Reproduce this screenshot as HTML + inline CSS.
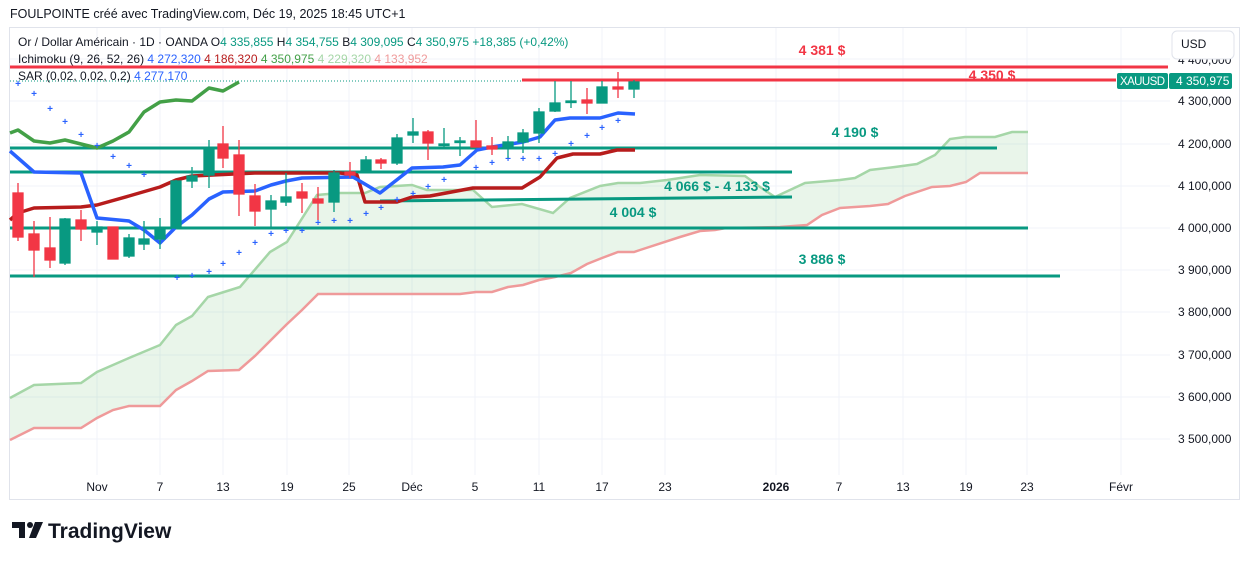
<!DOCTYPE html>
<html><head><meta charset="utf-8"><style>
html,body{margin:0;padding:0;background:#fff;width:1248px;height:561px;overflow:hidden}
svg{display:block;font-family:"Liberation Sans",sans-serif}
</style></head><body>
<svg width="1248" height="561" viewBox="0 0 1248 561">
<text x="10" y="18" font-size="12.5" fill="#131722">FOULPOINTE créé avec TradingView.com, Déc 19, 2025 18:45 UTC+1</text>
<rect x="9.5" y="27.5" width="1230" height="472" fill="#fff" stroke="#e0e3eb"/>
<g stroke="#f0f3fa" stroke-width="1">
<line x1="97" y1="28" x2="97" y2="475"/><line x1="160" y1="28" x2="160" y2="475"/><line x1="223" y1="28" x2="223" y2="475"/><line x1="287" y1="28" x2="287" y2="475"/><line x1="349" y1="28" x2="349" y2="475"/><line x1="412" y1="28" x2="412" y2="475"/><line x1="475" y1="28" x2="475" y2="475"/><line x1="539" y1="28" x2="539" y2="475"/><line x1="602" y1="28" x2="602" y2="475"/><line x1="665" y1="28" x2="665" y2="475"/><line x1="776" y1="28" x2="776" y2="475"/><line x1="839" y1="28" x2="839" y2="475"/><line x1="903" y1="28" x2="903" y2="475"/><line x1="966" y1="28" x2="966" y2="475"/><line x1="1027" y1="28" x2="1027" y2="475"/><line x1="1121" y1="28" x2="1121" y2="475"/>
<line x1="10" y1="59" x2="1170" y2="59"/><line x1="10" y1="101" x2="1170" y2="101"/><line x1="10" y1="144" x2="1170" y2="144"/><line x1="10" y1="186" x2="1170" y2="186"/><line x1="10" y1="228" x2="1170" y2="228"/><line x1="10" y1="270" x2="1170" y2="270"/><line x1="10" y1="312" x2="1170" y2="312"/><line x1="10" y1="355" x2="1170" y2="355"/><line x1="10" y1="397" x2="1170" y2="397"/><line x1="10" y1="439" x2="1170" y2="439"/>
</g>
<polygon fill="rgba(76,175,80,0.12)" points="10,398 34,385 81,383 97,372 129,358 160,345 176,325 192,316 208,297 240,287 270,252 287,242 317,195 340,193 365,193 380,187 412,185 427,190 473,190 492,207 522,204 553,213 570,198 600,186 618,183 640,183 667,180 700,175 745,176 760,187 775,197 805,183 840,180 855,178 870,170 895,167 917,164 935,155 950,139 965,137 995,137 1012,132 1028,132 1028,173 980,173 966,182 950,186 932,187 905,196 888,204 870,206 840,208 822,215 807,225 780,227 726,228 715,230 700,231 680,237 640,250 634,252 618,252 602,258 587,264 571,273 555,277 539,280 523,285 508,287 492,292 476,292 460,294 350,294 318,294 302,310 286,325 271,340 255,356 239,370 208,371 192,381 176,390 160,406 129,406 113,410 97,418 81,428 34,428 10,440"/>
<polyline fill="none" stroke="#a5d6a7" stroke-width="2.5" points="10,398 34,385 81,383 97,372 129,358 160,345 176,325 192,316 208,297 240,287 270,252 287,242 317,195 340,193 365,193 380,187 412,185 427,190 473,190 492,207 522,204 553,213 570,198 600,186 618,183 640,183 667,180 700,175 745,176 760,187 775,197 805,183 840,180 855,178 870,170 895,167 917,164 935,155 950,139 965,137 995,137 1012,132 1028,132"/>
<polyline fill="none" stroke="#ef9a9a" stroke-width="2.5" points="10,440 34,428 81,428 97,418 113,410 129,406 160,406 176,390 192,381 208,371 239,370 255,356 271,340 286,325 302,310 318,294 350,294 460,294 476,292 492,292 508,287 523,285 539,280 555,277 571,273 587,264 602,258 618,252 634,252 640,250 680,237 700,231 715,230 726,228 780,227 807,225 822,215 840,208 870,206 888,204 905,196 932,187 950,186 966,182 980,173 1028,173"/>
<g stroke="#089981" stroke-width="3">
<line x1="10" y1="148" x2="997" y2="148"/><line x1="10" y1="172" x2="792" y2="172"/><line x1="380" y1="201" x2="792" y2="197"/><line x1="10" y1="228" x2="1028" y2="228"/><line x1="10" y1="276" x2="1060" y2="276"/>
</g>
<line x1="10" y1="81" x2="1116" y2="81" stroke="#089981" stroke-width="1" stroke-dasharray="1,2"/>
<line x1="10" y1="67" x2="1168" y2="67" stroke="#f23645" stroke-width="3"/>
<line x1="522" y1="80" x2="1116" y2="80" stroke="#f23645" stroke-width="3"/>
<g font-size="14" font-weight="bold" text-anchor="middle">
<text x="822" y="55" fill="#f23645">4 381 $</text>
<text x="992" y="80" fill="#f23645">4 350 $</text>
<text x="855" y="137" fill="#089981">4 190 $</text>
<text x="717" y="191" fill="#089981">4 066 $ - 4 133 $</text>
<text x="633" y="217" fill="#089981">4 004 $</text>
<text x="822" y="264" fill="#089981">3 886 $</text>
</g>
<polyline fill="none" stroke="#43a047" stroke-width="3.5" stroke-linejoin="round" points="10,133 18,130 34,141 50,143 65,140 81,144 97,148 113,141 129,132 144,112 160,102 176,100 192,101 209,88 223,91 239,82"/>
<polyline fill="none" stroke="#b71c1c" stroke-width="3.5" stroke-linejoin="round" points="10,220 18,213 34,208 81,207 97,205 129,196 160,187 176,180 192,176 255,173 340,173 357,175 365,202 397,202 412,197 430,196 473,188 522,188 540,177 557,158 573,154 600,154 617,150 635,150"/>
<polyline fill="none" stroke="#2962ff" stroke-width="3.5" stroke-linejoin="round" points="10,151 34,172 81,173 97,218 129,221 144,230 160,243 176,227 192,215 209,199 223,192 255,191 271,185 286,181 302,178 353,177 380,193 412,168 443,167 460,165 477,150 492,147 523,142 540,137 555,120 570,118 600,118 618,113 635,114"/>
<g fill="#2962ff" font-size="10" text-anchor="middle" font-weight="bold">
<text x="18" y="87">+</text><text x="34" y="97">+</text><text x="50" y="112">+</text><text x="65" y="125">+</text><text x="81" y="138">+</text><text x="97" y="149">+</text><text x="113" y="160">+</text><text x="129" y="169">+</text><text x="144" y="178">+</text><text x="177" y="281">+</text><text x="192" y="279">+</text><text x="209" y="275">+</text><text x="223" y="267">+</text><text x="239" y="256">+</text><text x="255" y="246">+</text><text x="271" y="237">+</text><text x="286" y="234">+</text><text x="302" y="234">+</text><text x="318" y="226">+</text><text x="334" y="224">+</text><text x="350" y="224">+</text><text x="366" y="217">+</text><text x="381" y="211">+</text><text x="397" y="203">+</text><text x="413" y="197">+</text><text x="428" y="190">+</text><text x="444" y="183">+</text><text x="476" y="171">+</text><text x="492" y="166">+</text><text x="508" y="162">+</text><text x="523" y="162">+</text><text x="539" y="162">+</text><text x="555" y="157">+</text><text x="571" y="147">+</text><text x="587" y="139">+</text><text x="602" y="131">+</text><text x="618" y="124">+</text>
</g>
<g stroke-width="1.3">
<g stroke="#f23645" fill="#f23645">
<line x1="18" y1="183" x2="18" y2="241"/><rect x="13" y="193" width="10" height="44"/>
<line x1="34" y1="221" x2="34" y2="277"/><rect x="29" y="234" width="10" height="16"/>
<line x1="50" y1="217" x2="50" y2="268"/><rect x="45" y="248" width="10" height="12"/>
<line x1="81" y1="210" x2="81" y2="241"/><rect x="76" y="220" width="10" height="9"/>
<line x1="113" y1="227" x2="113" y2="259"/><rect x="108" y="227" width="10" height="32"/>
<line x1="223" y1="126" x2="223" y2="168"/><rect x="218" y="144" width="10" height="14"/>
<line x1="239" y1="140" x2="239" y2="216"/><rect x="234" y="155" width="10" height="39"/>
<line x1="255" y1="184" x2="255" y2="226"/><rect x="250" y="196" width="10" height="15"/>
<line x1="302" y1="183" x2="302" y2="213"/><rect x="297" y="192" width="10" height="6"/>
<line x1="318" y1="187" x2="318" y2="220"/><rect x="313" y="199" width="10" height="4"/>
<line x1="350" y1="162" x2="350" y2="178"/><rect x="345" y="172" width="10" height="3"/>
<line x1="381" y1="158" x2="381" y2="169"/><rect x="376" y="160" width="10" height="3"/>
<line x1="428" y1="130" x2="428" y2="160"/><rect x="423" y="132" width="10" height="11"/>
<line x1="476" y1="120" x2="476" y2="147"/><rect x="471" y="141" width="10" height="6"/>
<line x1="492" y1="137" x2="492" y2="155"/><rect x="487" y="146" width="10" height="3"/>
<line x1="587" y1="88" x2="587" y2="114"/><rect x="582" y="100" width="10" height="3"/>
<line x1="618" y1="72" x2="618" y2="98"/><rect x="613" y="87" width="10" height="2"/>
</g>
<g stroke="#089981" fill="#089981">
<line x1="65" y1="218" x2="65" y2="265"/><rect x="60" y="219" width="10" height="44"/>
<line x1="97" y1="221" x2="97" y2="245"/><rect x="92" y="227" width="10" height="5"/>
<line x1="129" y1="234" x2="129" y2="258"/><rect x="124" y="238" width="10" height="18"/>
<line x1="144" y1="221" x2="144" y2="250"/><rect x="139" y="239" width="10" height="5"/>
<line x1="160" y1="218" x2="160" y2="249"/><rect x="155" y="228" width="10" height="11"/>
<line x1="176" y1="180" x2="176" y2="229"/><rect x="171" y="181" width="10" height="47"/>
<line x1="192" y1="167" x2="192" y2="188"/><rect x="187" y="176" width="10" height="5"/>
<line x1="209" y1="140" x2="209" y2="188"/><rect x="204" y="148" width="10" height="27"/>
<line x1="271" y1="195" x2="271" y2="227"/><rect x="266" y="201" width="10" height="8"/>
<line x1="286" y1="173" x2="286" y2="206"/><rect x="281" y="197" width="10" height="5"/>
<line x1="334" y1="170" x2="334" y2="212"/><rect x="329" y="173" width="10" height="29"/>
<line x1="366" y1="156" x2="366" y2="170"/><rect x="361" y="160" width="10" height="10"/>
<line x1="397" y1="134" x2="397" y2="165"/><rect x="392" y="138" width="10" height="25"/>
<line x1="413" y1="118" x2="413" y2="143"/><rect x="408" y="132" width="10" height="3"/>
<line x1="444" y1="128" x2="444" y2="148"/><rect x="439" y="144" width="10" height="1.5"/>
<line x1="460" y1="137" x2="460" y2="156"/><rect x="455" y="141" width="10" height="1.5"/>
<line x1="508" y1="136" x2="508" y2="158"/><rect x="503" y="142" width="10" height="6"/>
<line x1="523" y1="129" x2="523" y2="153"/><rect x="518" y="133" width="10" height="9"/>
<line x1="539" y1="108" x2="539" y2="143"/><rect x="534" y="112" width="10" height="21"/>
<line x1="555" y1="81" x2="555" y2="112"/><rect x="550" y="103" width="10" height="8"/>
<line x1="571" y1="81" x2="571" y2="108"/><rect x="566" y="101" width="10" height="1.5"/>
<line x1="602" y1="81" x2="602" y2="103"/><rect x="597" y="87" width="10" height="16"/>
<line x1="634" y1="80" x2="634" y2="98"/><rect x="629" y="82" width="10" height="7"/>
</g>
</g>
<g font-size="12">
<text x="18" y="46" fill="#131722">Or / Dollar Américain · 1D · OANDA <tspan fill="#131722">O</tspan><tspan fill="#089981">4 335,855</tspan> <tspan fill="#131722">H</tspan><tspan fill="#089981">4 354,755</tspan> <tspan fill="#131722">B</tspan><tspan fill="#089981">4 309,095</tspan> <tspan fill="#131722">C</tspan><tspan fill="#089981">4 350,975 +18,385 (+0,42%)</tspan></text>
<text x="18" y="63" fill="#131722">Ichimoku (9, 26, 52, 26) <tspan fill="#2962ff">4 272,320</tspan> <tspan fill="#b71c1c">4 186,320</tspan> <tspan fill="#43a047">4 350,975</tspan> <tspan fill="#a5d6a7">4 229,320</tspan> <tspan fill="#ef9a9a">4 133,952</tspan></text>
<text x="18" y="80" fill="#131722">SAR (0,02, 0,02, 0,2) <tspan fill="#2962ff">4 277,170</tspan></text>
</g>
<g font-size="12" fill="#131722">
<text x="1178" y="64">4 400,000</text>
<text x="1178" y="105">4 300,000</text><text x="1178" y="148">4 200,000</text><text x="1178" y="190">4 100,000</text><text x="1178" y="232">4 000,000</text><text x="1178" y="274">3 900,000</text><text x="1178" y="316">3 800,000</text><text x="1178" y="359">3 700,000</text><text x="1178" y="401">3 600,000</text><text x="1178" y="443">3 500,000</text>
</g>
<rect x="1172" y="31" width="62" height="28" rx="5" fill="#fff" stroke="#e0e3eb"/>
<text x="1181" y="48" font-size="12" fill="#131722">USD</text>
<rect x="1117" y="73" width="51" height="16" rx="2" fill="#089981"/>
<text x="1120" y="85" font-size="11.5" fill="#fff" textLength="45">XAUUSD</text>
<rect x="1169" y="73" width="63" height="16" rx="2" fill="#089981"/>
<text x="1176" y="85" font-size="12" fill="#fff">4 350,975</text>
<g font-size="12" fill="#131722" text-anchor="middle">
<text x="97" y="491">Nov</text><text x="160" y="491">7</text><text x="223" y="491">13</text><text x="287" y="491">19</text><text x="349" y="491">25</text><text x="412" y="491">Déc</text><text x="475" y="491">5</text><text x="539" y="491">11</text><text x="602" y="491">17</text><text x="665" y="491">23</text><text x="776" y="491" font-weight="bold">2026</text><text x="839" y="491">7</text><text x="903" y="491">13</text><text x="966" y="491">19</text><text x="1027" y="491">23</text><text x="1121" y="491">Févr</text>
</g>
<g fill="#131722">
<path d="M12 522h13v16h-6v-10h-7z"/><circle cx="30" cy="525" r="3"/><path d="M35 522h8l-7 16h-7z"/>
</g>
<text x="48" y="538" font-size="21" font-weight="bold" fill="#131722">TradingView</text>
</svg>
</body></html>
